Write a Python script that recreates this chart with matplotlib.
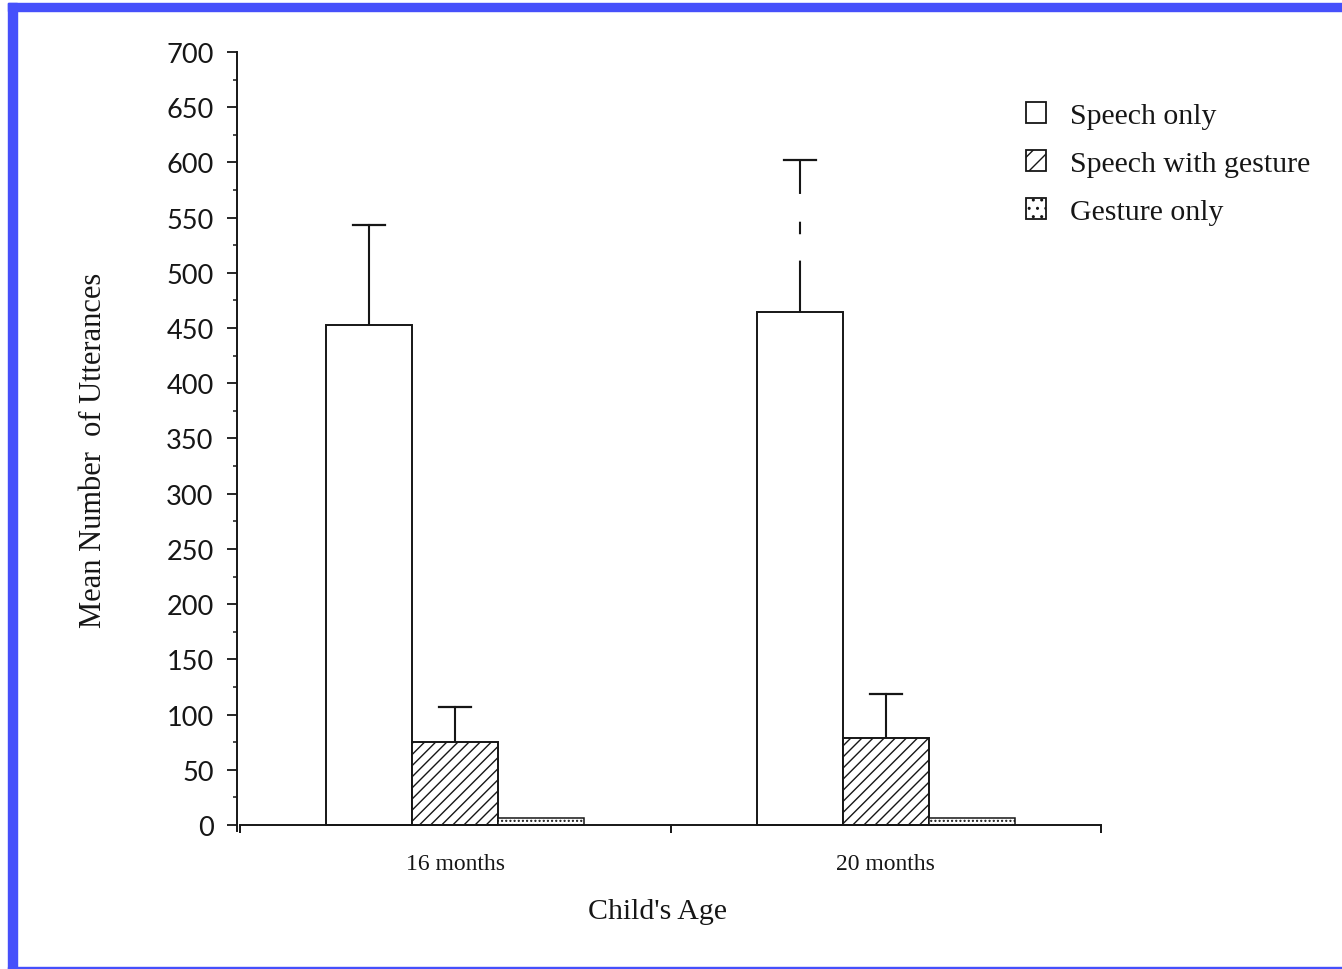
import matplotlib
matplotlib.use("Agg")
import matplotlib.pyplot as plt
from matplotlib.patches import Patch, Rectangle
import numpy as np

# values
ages = ['16 months', '20 months']
series = ['Speech only', 'Speech with gesture', 'Gesture only']
speech_only = [453, 465]
speech_gesture = [75, 79]
gesture_only = [6, 6]
# upper error (mean -> top of bar)
speech_only_err = [90, 137]
speech_gesture_err = [32, 40]

plt.rcParams['hatch.linewidth'] = 1.0
plt.rcParams['lines.scale_dashes'] = False

serif = 'Liberation Serif'
ink = '#161616'

fig = plt.figure(figsize=(13.42, 9.70), dpi=100)
ax = fig.add_axes([240/1342, (970-831.5)/970, 861/1342, (831.5-53)/970])

x = np.arange(len(ages)) + 0.5
w = 0.2
ax.bar(x - w, speech_only, w, color='white', edgecolor=ink, linewidth=1.4, zorder=2)
ax.bar(x, speech_gesture, w, color='white', edgecolor=ink, linewidth=1.4, hatch='///', zorder=2)
ax.bar(x + w, gesture_only, w, color='white', edgecolor=ink, linewidth=1.1, hatch='....', zorder=2)

# error bars, upper half only
cap = 0.05
err_x = list(x - w) + list(x)
err_lo = speech_only + speech_gesture
err_hi = [m + e for m, e in zip(speech_only, speech_only_err)] + \
         [m + e for m, e in zip(speech_gesture, speech_gesture_err)]
# the 20 months speech-only bar is broken up on the scan
styles = ['-', (0, (37, 19, 9, 20, 30)), '-', '-']
for xi, lo, hi, ls in zip(err_x, err_lo, err_hi, styles):
    ax.plot([xi, xi], [lo, hi], color=ink, lw=1.5, ls=ls, zorder=1)
    ax.plot([xi - cap*0.75, xi + cap*0.75], [hi, hi], color=ink, lw=1.6, zorder=1)

ax.set_xlim(0, 2)
ax.set_ylim(-5, 700)
ax.spines['top'].set_visible(False)
ax.spines['right'].set_visible(False)
ax.spines['bottom'].set_position(('data', 0))
ax.spines['left'].set_position(('outward', 2))
for s in ['left', 'bottom']:
    ax.spines[s].set_linewidth(1.4)
    ax.spines[s].set_color(ink)
ax.spines['left'].set_bounds(-5, 700)

ax.set_yticks(np.arange(0, 701, 50))
ax.set_yticks(np.arange(25, 700, 50), minor=True)
ax.tick_params(axis='y', which='major', direction='out', length=7, width=1.3,
               pad=10, labelsize=19.5, colors=ink)
ax.tick_params(axis='y', which='minor', direction='out', length=3, width=1.1, colors=ink)
for t in ax.get_yticklabels():
    t.set_fontfamily('Lato')

ax.set_xticks([0, 1, 2])
ax.set_xticklabels([])
ax.set_xticks(x, minor=True)
ax.set_xticklabels(ages, minor=True, fontfamily=serif, fontsize=17)
ax.tick_params(axis='x', which='major', direction='out', length=6, width=1.4, colors=ink)
ax.tick_params(axis='x', which='minor', length=0, pad=20, colors=ink)

ax.set_ylabel('Mean Number  of Utterances', fontfamily=serif, fontsize=22, color=ink)
ax.yaxis.set_label_coords(-0.153, 0.49)
fig.text(658/1342, 1 - 912/970, "Child's Age", fontfamily=serif, fontsize=21.5,
         ha='center', va='center', color=ink)

handles = [Patch(facecolor='white', edgecolor=ink, linewidth=1.3),
           Patch(facecolor='white', edgecolor=ink, linewidth=1.3, hatch='//'),
           Patch(facecolor='white', edgecolor=ink, linewidth=1.3, hatch='..')]
leg = fig.legend(handles, series, loc='upper left', bbox_to_anchor=(1026/1342, 1 - 103/970),
                 frameon=False, prop={'family': serif, 'size': 21.5},
                 handlelength=0.68, handleheight=0.68, handletextpad=0.8,
                 labelspacing=0.72, borderaxespad=0, borderpad=0)
for t in leg.get_texts():
    t.set_color(ink)

# blue frame around the scan
blue = '#4650fb'
fig.patches.append(Rectangle((8/1342, 0), 8.5/1342, 1 - 4/970, transform=fig.transFigure,
                             color=blue, zorder=5))
fig.patches.append(Rectangle((8/1342, 1 - 12.3/970), 1, 8.3/970, transform=fig.transFigure,
                             color=blue, zorder=5))
fig.patches.append(Rectangle((8/1342, 0), 1, 2.5/970, transform=fig.transFigure,
                             color=blue, zorder=5))

fig.savefig('out.png', dpi=100)
